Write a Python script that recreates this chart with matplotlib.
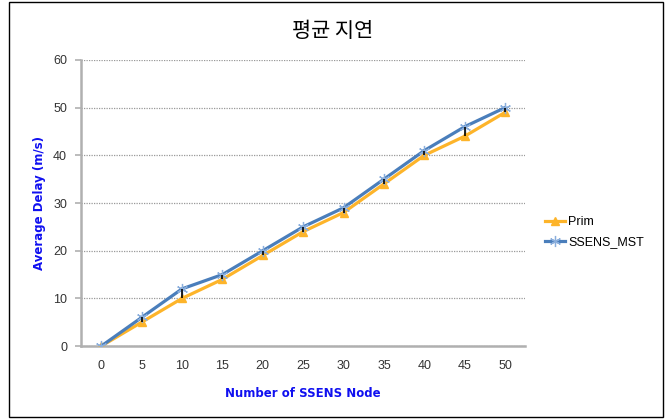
import matplotlib.pyplot as plt
from matplotlib.patches import Rectangle
import numpy as np

plt.rcParams['font.family'] = ['Noto Sans CJK KR', 'DejaVu Sans']

# node counts and average delay per algorithm
nodes = [0, 5, 10, 15, 20, 25, 30, 35, 40, 45, 50]
prim = [0, 5, 10, 14, 19, 24, 28, 34, 40, 44, 49]
ssens_mst = [0, 6, 12, 15, 20, 25, 29, 35, 41, 46, 50]
y_ticks = [0, 10, 20, 30, 40, 50, 60]


def main():
    fig = plt.figure(figsize=(6.7, 4.19), dpi=100)
    ax = fig.add_axes([0.121, 0.174, 0.663, 0.683])

    x = np.arange(len(nodes))

    # high-low lines between the two series
    ax.vlines(x, prim, ssens_mst, color='black', linewidth=1.2, zorder=4)

    ax.plot(x, prim, color='#FDB42A', linewidth=2.3, marker='^',
            markersize=6, markerfacecolor='#FDB42A', markeredgecolor='#FDB42A',
            label='Prim', zorder=3)
    ax.plot(x, ssens_mst, color='#4A7EBB', linewidth=2.3, marker=(6, 2, 0),
            markersize=8, markeredgecolor='#8AAEDC', markeredgewidth=0.9,
            label='SSENS_MST', zorder=3)

    ax.set_xlim(-0.5, len(nodes) - 0.5)
    ax.set_ylim(0, 60)
    ax.set_xticks(x)
    ax.set_xticklabels([str(n) for n in nodes], family='Liberation Sans')
    ax.set_yticks(y_ticks)
    ax.set_yticklabels([str(t) for t in y_ticks], family='Liberation Sans')

    ax.grid(axis='y', linestyle=(0, (1, 1)), color='#999999', linewidth=0.9)
    ax.set_axisbelow(True)
    for side in ['top', 'right']:
        ax.spines[side].set_visible(False)
    for side in ['left', 'bottom']:
        ax.spines[side].set_color('#B0B0B0')
        ax.spines[side].set_linewidth(1.8)

    ax.tick_params(axis='y', length=4, color='#B0B0B0', width=1.2,
                   labelsize=9, labelcolor='#333333', pad=6)
    ax.tick_params(axis='x', length=0, labelsize=9, labelcolor='#333333', pad=10)

    ax.set_xlabel('Number of SSENS Node', color='#1010F0', fontsize=8.5,
                  fontweight='bold', family='DejaVu Sans', labelpad=11)
    ax.set_ylabel('Average Delay (m/s)', color='#1010F0', fontsize=8.5,
                  fontweight='bold', family='DejaVu Sans', labelpad=5)

    fig.text(0.497, 0.925, '평균 지연', ha='center', va='center', fontsize=15)

    ax.legend(loc='center left', bbox_to_anchor=(1.02, 0.398), frameon=False,
              prop={'family': 'Liberation Sans', 'size': 9},
              handlelength=1.6, handletextpad=0.2, labelspacing=0.6)

    # outer chart border
    fig.patches.append(Rectangle((0.013, 0.004), 0.977, 0.991, transform=fig.transFigure,
                                 fill=False, edgecolor='black', linewidth=1.0))

    fig.savefig('out.png', dpi=100)


main()
